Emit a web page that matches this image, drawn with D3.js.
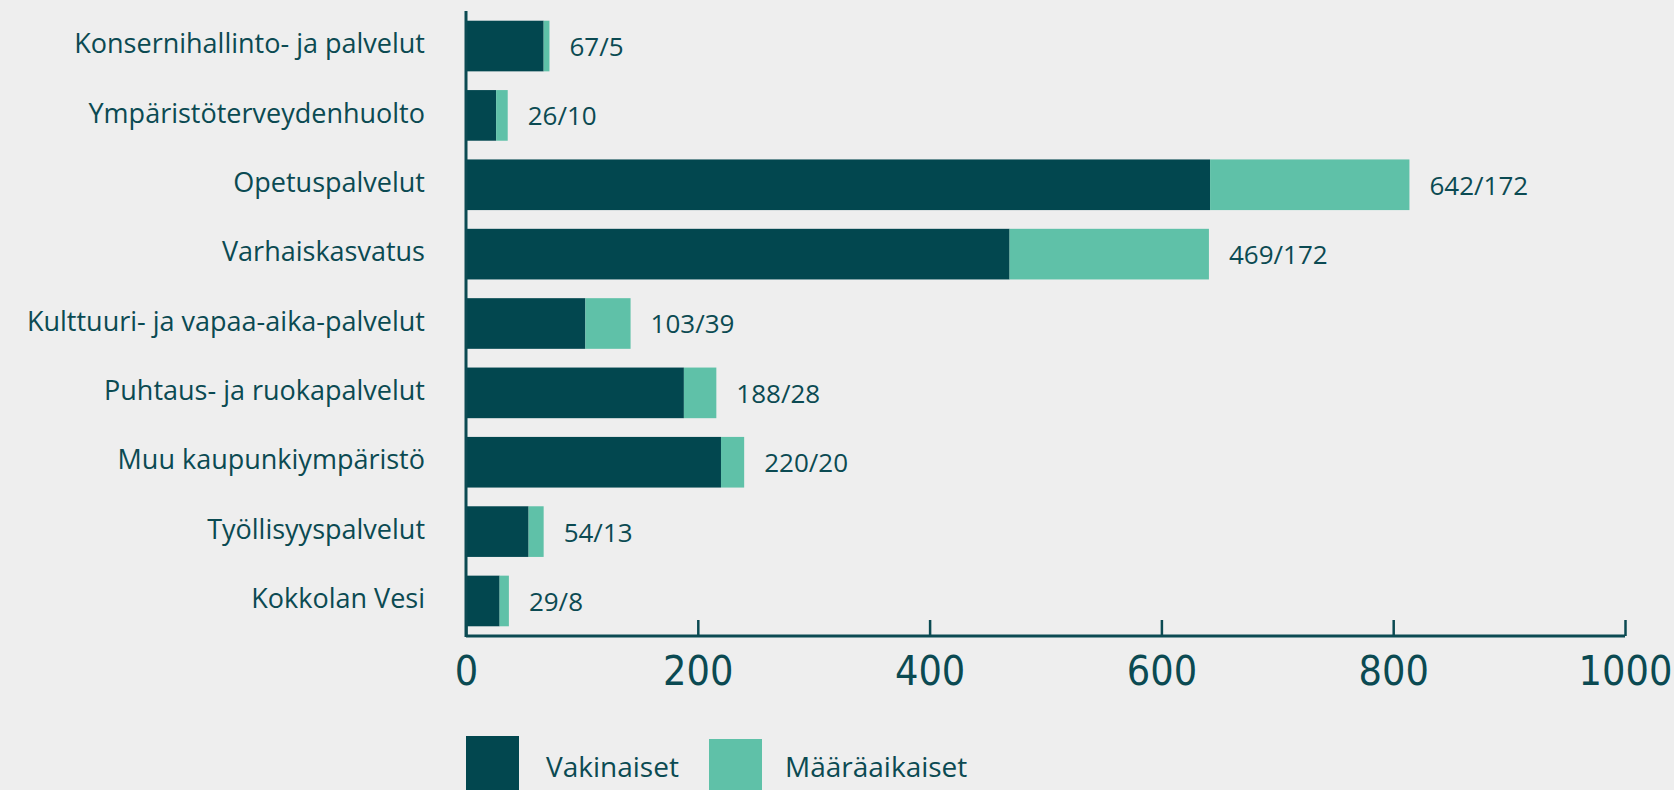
<!DOCTYPE html>
<html><head><meta charset="utf-8">
<script src="https://cdn.jsdelivr.net/npm/d3@7"></script>
<style>
html,body{margin:0;padding:0;background:#eeeeee;}
svg{display:block;}
</style></head>
<body>
<svg id="chart" width="1674" height="790"></svg>
<script>
const categories = ["Konsernihallinto- ja palvelut","Ympäristöterveydenhuolto","Opetuspalvelut","Varhaiskasvatus","Kulttuuri- ja vapaa-aika-palvelut","Puhtaus- ja ruokapalvelut","Muu kaupunkiympäristö","Työllisyyspalvelut","Kokkolan Vesi"];
const vakinaiset = [67,26,642,469,103,188,220,54,29];
const maaraaikaiset = [5,10,172,172,39,28,20,13,8];
const seriesNames = ["Vakinaiset","Määräaikaiset"];
const xTicks = [0,200,400,600,800,1000];

const dark = "#02474f", light = "#5fc1a8", textCol = "#0b4a52";
const font = "'Open Sans', Lato, sans-serif";
const svg = d3.select("#chart");
const x = d3.scaleLinear().domain([0,1000]).range([466,1625]);
const y = d3.scaleBand().domain(categories).range([11,636]).paddingInner(0.27).paddingOuter(0.14);

const data = categories.map((c,i)=>({cat:c, v:vakinaiset[i], m:maaraaikaiset[i]}));

// bars
svg.selectAll("rect.vak").data(data).join("rect").attr("class","vak")
  .attr("x",x(0)).attr("y",d=>y(d.cat)).attr("height",y.bandwidth())
  .attr("width",d=>x(d.v)-x(0)).attr("fill",dark);
svg.selectAll("rect.maa").data(data).join("rect").attr("class","maa")
  .attr("x",d=>x(d.v)).attr("y",d=>y(d.cat)).attr("height",y.bandwidth())
  .attr("width",d=>x(d.v+d.m)-x(d.v)).attr("fill",light);

// value labels
svg.selectAll("text.val").data(data).join("text").attr("class","val")
  .attr("x",d=>x(d.v+d.m)+20).attr("y",d=>y(d.cat)+y.bandwidth()/2+3)
  .attr("dominant-baseline","middle")
  .attr("font-family",font).attr("font-size",26)
  .attr("fill",textCol).text(d=>d.v+"/"+d.m);

// category labels
svg.selectAll("text.cat").data(categories).join("text").attr("class","cat")
  .attr("x",425).attr("y",d=>y(d)+y.bandwidth()/2)
  .attr("text-anchor","end").attr("dominant-baseline","middle")
  .attr("font-family",font).attr("font-size",27)
  .attr("fill",textCol).text(d=>d);

// y axis line
svg.append("line").attr("x1",x(0)).attr("x2",x(0)).attr("y1",11).attr("y2",637)
  .attr("stroke",textCol).attr("stroke-width",3);

// x axis
const xAxis = d3.axisBottom(x).tickValues(xTicks).tickSize(-16).tickPadding(20).tickFormat(d3.format("d"));
const gx = svg.append("g").attr("transform","translate(0,636)").call(xAxis);
gx.select(".domain").attr("stroke",textCol).attr("stroke-width",3).attr("d",`M${x(0)},0H${x(1000)}`);
gx.selectAll(".tick line").attr("stroke",textCol).attr("stroke-width",2.5);
gx.selectAll(".tick text").attr("fill",textCol)
  .attr("font-family","'Liberation Sans Narrow','DejaVu Sans Condensed', sans-serif")
  .attr("font-size",41).attr("dy","0.71em");

// legend
const legX = [466,709], legTextX = [546,785];
const leg = svg.selectAll("g.leg").data(seriesNames).join("g").attr("class","leg");
leg.append("rect").attr("x",(d,i)=>legX[i]).attr("y",(d,i)=>i===0?736:739)
  .attr("width",53).attr("height",60).attr("fill",(d,i)=>i===0?dark:light);
leg.append("text").attr("x",(d,i)=>legTextX[i]).attr("y",770)
  .attr("dominant-baseline","middle")
  .attr("font-family",font).attr("font-size",28)
  .attr("fill",textCol).text(d=>d);
</script>
</body></html>
